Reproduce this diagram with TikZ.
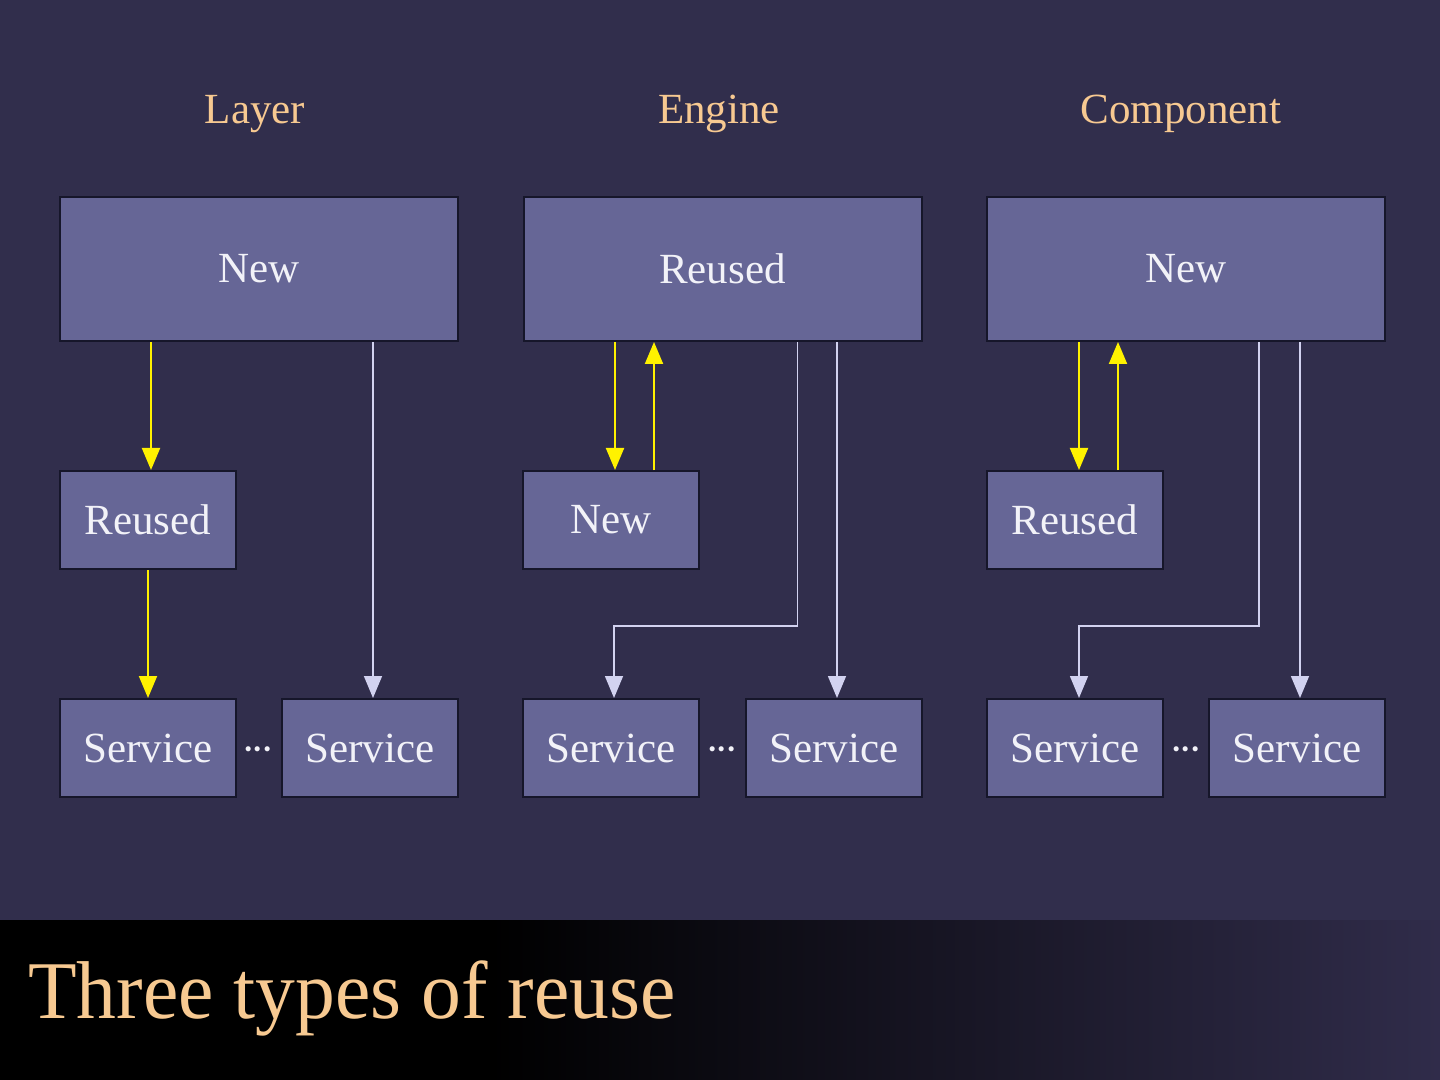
\documentclass[tikz,border=0pt]{standalone}
\usepackage{fontspec}
\setmainfont{Liberation Serif}
\usetikzlibrary{arrows.meta,calc}
\definecolor{bg}{HTML}{312E4C}
\definecolor{boxfill}{HTML}{666696}
\definecolor{boxline}{HTML}{16162A}
\definecolor{peach}{HTML}{F7C991}
\definecolor{lav}{HTML}{D2D2F0}
\definecolor{boxtext}{HTML}{F2F2F8}
\definecolor{bartint}{HTML}{302C4A}
\pgfdeclarehorizontalshading{barshade}{100bp}{color(0bp)=(black); color(42bp)=(black); color(75bp)=(bartint); color(100bp)=(bartint)}
\newcommand{\gapdots}{·\kern-2.6pt·\kern-2.6pt·}
\begin{document}
\begin{tikzpicture}[x=0.5pt,y=-0.5pt,
  txt/.style={font=\fontsize{21.5}{24}\selectfont},
  head/.style={txt,text=peach,anchor=base},
  bigbox/.style={draw=boxline,line width=1pt,fill=boxfill,txt,text=boxtext,
    minimum width=199pt,minimum height=72pt,inner sep=0pt},
  smallbox/.style={draw=boxline,line width=1pt,fill=boxfill,txt,text=boxtext,
    minimum width=88pt,minimum height=49pt,inner sep=0pt},
  gap/.style={txt,text=boxtext,inner sep=0pt},
  ya/.style={draw=yellow,line width=1pt,-{Triangle[length=11pt,width=9pt]}},
  la/.style={draw=lav,line width=0.8pt,-{Triangle[length=11pt,width=9pt]}}]
% background and bottom bar
\fill[bg] (0,0) rectangle (1440,1080);
\useasboundingbox (0,0) rectangle (1440,1080);
\shade[shading=barshade] (0,920) rectangle (1440,1080);

% column headings
\node[head] (hl) at (255,124) {Layer};
\node[head] (he) at (719,124) {Engine};
\node[head] (hc) at (1181,124) {Component};

% Layer column
\node[bigbox] (L0) at (259,269) {New};
\node[smallbox] (L1) at (148,520) {Reused};
\node[smallbox] (L2) at (148,748) {Service};
\node[smallbox] (L3) at (370,748) {Service};
\node[gap] (Ld) at (258,755) {\gapdots};

% Engine column
\node[bigbox] (E0) at (722.5,269) {Reused};
\node[smallbox] (E1) at (611,520) {New};
\node[smallbox] (E2) at (611,748) {Service};
\node[smallbox] (E3) at (834,748) {Service};
\node[gap] (Ed) at (722,755) {\gapdots};

% Component column
\node[bigbox] (C0) at (1186,269) {New};
\node[smallbox] (C1) at (1075,520) {Reused};
\node[smallbox] (C2) at (1075,748) {Service};
\node[smallbox] (C3) at (1297,748) {Service};
\node[gap] (Cd) at (1186,755) {\gapdots};

% connector anchor points
\coordinate (l1in) at ($(L1.north)+(3,0)$);
\coordinate (e1in) at ($(E1.north)+(4,0)$);
\coordinate (e1out) at ($(E1.north)+(43,0)$);
\coordinate (e0out) at ($(E0.south west)+(275,0)$);
\coordinate (e2bend) at ($(E2.north)+(3,-72)$);
\coordinate (e2in) at ($(E2.north)+(3,0)$);
\coordinate (e3in) at ($(E3.north)+(3,0)$);
\coordinate (c1in) at ($(C1.north)+(4,0)$);
\coordinate (c1out) at ($(C1.north)+(43,0)$);
\coordinate (c0out) at ($(C0.south west)+(273,0)$);
\coordinate (c2bend) at ($(C2.north)+(4,-72)$);
\coordinate (c2in) at ($(C2.north)+(4,0)$);
\coordinate (c3in) at ($(C3.north)+(3,0)$);
\coordinate (l3in) at ($(L3.north)+(3,0)$);

% Layer connectors
\draw[ya] (L0.south -| l1in) -- (l1in);
\draw[ya] (L1.south) -- (L2.north);
\draw[la] (L0.south -| l3in) -- (l3in);

% Engine connectors
\draw[ya] (E0.south -| e1in) -- (e1in);
\draw[ya] (e1out) -- (E0.south -| e1out);
\draw[la] (e0out) |- (e2bend) -- (e2in);
\draw[la] (E0.south -| e3in) -- (e3in);

% Component connectors
\draw[ya] (C0.south -| c1in) -- (c1in);
\draw[ya] (c1out) -- (C0.south -| c1out);
\draw[la] (c0out) |- (c2bend) -- (c2in);
\draw[la] (C0.south -| c3in) -- (c3in);

% slide title
\node[anchor=base west,text=peach,inner sep=0pt,
  font=\fontsize{41}{46}\selectfont] (title) at (28,1018)
  {\scalebox{0.97}[1]{Three types of reuse}};
\end{tikzpicture}
\end{document}
